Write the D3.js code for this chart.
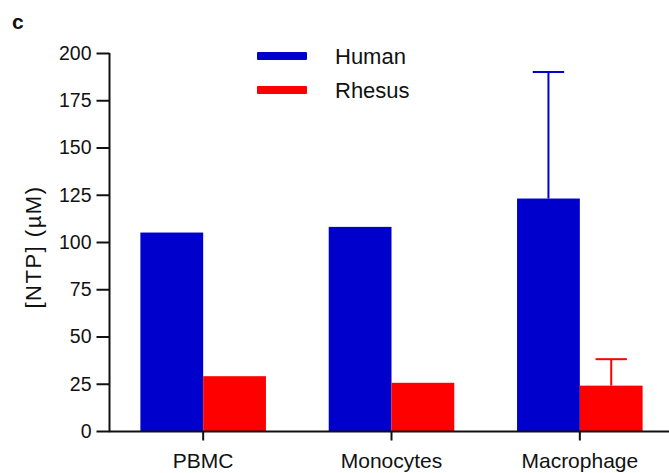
<!DOCTYPE html>
<html>
<head>
<meta charset="utf-8">
<script src="https://cdn.jsdelivr.net/npm/d3@7"></script>
<style>
  body { margin: 0; background: #fff; }
  svg text { font-family: "Liberation Sans", Arial, sans-serif; fill: #111; }
</style>
</head>
<body>
<div id="content-holder"></div>
<script>
var categories = ["PBMC", "Monocytes", "Macrophage"];
var seriesNames = ["Human", "Rhesus"];
var humanValues = [105, 108, 123];
var rhesusValues = [29, 25.5, 24];
var humanErrors = [0, 0, 67];
var rhesusErrors = [0, 0, 14];
var yTicks = [0, 25, 50, 75, 100, 125, 150, 175, 200];
var seriesColors = ["#0000cc", "#ff0000"];

var ready = function(){
  var width = 669, height = 473;
  var svg = d3.select('#content-holder')
    .append("svg")
    .attr("width", width)
    .attr("height", height);

  var y = d3.scaleLinear().domain([0, 200]).range([431, 53]);
  var x = d3.scaleBand().domain(categories).range([109, 674]).padding(0);
  var xs = d3.scaleBand().domain(seriesNames).range([0, x.bandwidth()]).paddingOuter(0.5).paddingInner(0);

  var rows = categories.map(function(c, i){
    return [
      {cat: c, series: "Human", value: humanValues[i], err: humanErrors[i]},
      {cat: c, series: "Rhesus", value: rhesusValues[i], err: rhesusErrors[i]}
    ];
  });

  // bars
  var groups = svg.selectAll("g.cat")
    .data(rows)
    .enter().append("g")
    .attr("class", "cat")
    .attr("transform", function(d){ return "translate(" + x(d[0].cat) + ",0)"; });

  groups.selectAll("rect")
    .data(function(d){ return d; })
    .enter().append("rect")
    .attr("x", function(d){ return xs(d.series); })
    .attr("width", xs.bandwidth())
    .attr("y", function(d){ return y(d.value); })
    .attr("height", function(d){ return y(0) - y(d.value); })
    .attr("fill", function(d, i){ return seriesColors[i]; });

  // error bars (upper only, the lower half is hidden by the bar)
  var errs = groups.selectAll("g.err")
    .data(function(d){ return d.filter(function(e){ return e.err > 0; }); })
    .enter().append("g")
    .attr("class", "err")
    .attr("stroke", function(d){ return seriesColors[seriesNames.indexOf(d.series)]; })
    .attr("stroke-width", 2);
  errs.append("line")
    .attr("x1", function(d){ return xs(d.series) + xs.bandwidth()/2; })
    .attr("x2", function(d){ return xs(d.series) + xs.bandwidth()/2; })
    .attr("y1", function(d){ return y(d.value); })
    .attr("y2", function(d){ return y(d.value + d.err); });
  errs.append("line")
    .attr("x1", function(d){ return xs(d.series) + xs.bandwidth()/4; })
    .attr("x2", function(d){ return xs(d.series) + xs.bandwidth()*3/4; })
    .attr("y1", function(d){ return y(d.value + d.err); })
    .attr("y2", function(d){ return y(d.value + d.err); });

  // y axis
  var yAxis = svg.append("g")
    .attr("transform", "translate(109.5,0)")
    .call(d3.axisLeft(y).tickValues(yTicks).tickSize(13).tickPadding(5));
  yAxis.selectAll("path, line").attr("stroke", "#111").attr("stroke-width", 2);
  yAxis.select("path").attr("d", "M0," + y(200) + "V" + y(0));
  yAxis.selectAll("text").attr("font-size", 19.5).attr("fill", "#111");

  // x axis
  var xAxis = svg.append("g")
    .attr("transform", "translate(0,431.5)")
    .call(d3.axisBottom(x).tickSize(9).tickPadding(13));
  xAxis.selectAll("path, line").attr("stroke", "#111").attr("stroke-width", 2);
  xAxis.select("path").attr("d", "M109,0H" + width);
  xAxis.selectAll("text").attr("font-size", 21).attr("fill", "#111");

  // y label
  svg.append("text")
    .attr("transform", "translate(41,247) rotate(-90)")
    .attr("text-anchor", "middle")
    .attr("font-size", 22)
    .attr("letter-spacing", 1.5)
    .text("[NTP] (\u00b5M)");

  // panel letter
  svg.append("text")
    .attr("x", 12)
    .attr("y", 29)
    .attr("font-size", 21)
    .attr("font-weight", "bold")
    .text("c");

  // legend
  var legend = svg.selectAll("g.legend")
    .data(seriesNames)
    .enter().append("g")
    .attr("class", "legend")
    .attr("transform", function(d, i){ return "translate(257," + (56 + i*34) + ")"; });
  legend.append("rect")
    .attr("x", 0).attr("y", -4)
    .attr("width", 50).attr("height", 8)
    .attr("rx", 1)
    .attr("fill", function(d, i){ return seriesColors[i]; });
  legend.append("text")
    .attr("x", 78).attr("y", 8)
    .attr("font-size", 22)
    .text(function(d){ return d; });
};
ready();
</script>
</body>
</html>
